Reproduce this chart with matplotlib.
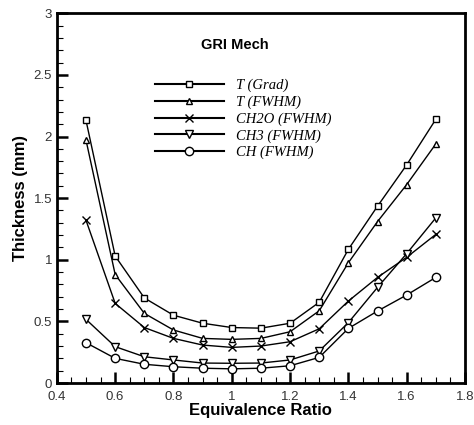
import matplotlib
matplotlib.use("Agg")
import matplotlib.pyplot as plt
from matplotlib.ticker import MultipleLocator

phi = [0.5, 0.6, 0.7, 0.8, 0.9, 1.0, 1.1, 1.2, 1.3, 1.4, 1.5, 1.6, 1.7]
t_grad = [2.13, 1.03, 0.69, 0.55, 0.485, 0.45, 0.445, 0.485, 0.655, 1.085, 1.435, 1.77, 2.14]
t_fwhm = [1.97, 0.88, 0.565, 0.43, 0.362, 0.354, 0.362, 0.416, 0.586, 0.976, 1.31, 1.61, 1.94]
ch2o = [1.32, 0.646, 0.45, 0.362, 0.308, 0.289, 0.30, 0.335, 0.44, 0.665, 0.857, 1.02, 1.206]
ch3 = [0.516, 0.295, 0.213, 0.187, 0.162, 0.16, 0.162, 0.187, 0.26, 0.49, 0.776, 1.05, 1.34]
ch = [0.327, 0.20, 0.152, 0.132, 0.12, 0.115, 0.12, 0.14, 0.208, 0.443, 0.584, 0.714, 0.857]

labels = ["T (Grad)", "T (FWHM)", "CH2O (FWHM)", "CH3 (FWHM)", "CH (FWHM)"]
series = [t_grad, t_fwhm, ch2o, ch3, ch]
markers = ["s", "^", "x", "v", "o"]
msizes = [4.5, 5, 5.5, 5.5, 6]

fig = plt.figure(figsize=(4.74, 4.25), dpi=100)
ax = fig.add_axes([0.120, 0.0988, 0.861, 0.870])

for y, lab, m, ms in zip(series, labels, markers, msizes):
    ax.plot(phi, y, color="black", lw=1.0, marker=m, ms=ms,
            mfc="white", mec="black", mew=1.0, label=lab)

ax.set_xlim(0.4, 1.8)
ax.set_ylim(0, 3)
ax.xaxis.set_major_locator(MultipleLocator(0.2))
ax.xaxis.set_minor_locator(MultipleLocator(0.05))
ax.yaxis.set_major_locator(MultipleLocator(0.5))
ax.yaxis.set_minor_locator(MultipleLocator(0.1))
ax.xaxis.set_major_formatter(matplotlib.ticker.FuncFormatter(lambda v, p: f"{v:g}"))
ax.yaxis.set_major_formatter(matplotlib.ticker.FuncFormatter(lambda v, p: f"{v:g}"))
ax.tick_params(which="both", direction="in", top=False, right=False,
               labelsize=9.5, labelcolor="#333333")
ax.tick_params(axis="x", which="major", pad=6)
ax.tick_params(which="major", length=8, width=1.8)
ax.tick_params(which="minor", length=4, width=0.8)
for tl in ax.get_xticklabels() + ax.get_yticklabels():
    tl.set_family("Liberation Sans")
for s in ax.spines.values():
    s.set_linewidth(2.0)

ax.set_xlabel("Equivalence Ratio", fontsize=12, fontweight="bold",
              family="Liberation Sans", labelpad=0)
ax.set_ylabel("Thickness (mm)", fontsize=12, fontweight="bold",
              family="Liberation Sans", labelpad=4)

fig.text(235 / 474, 1 - 45 / 425, "GRI Mech", fontsize=10.5, fontweight="bold",
         family="Liberation Sans", ha="center", va="center")

leg = ax.legend(loc="upper left", bbox_to_anchor=(155 / 474, 1 - 79 / 425),
                bbox_transform=fig.transFigure, frameon=False, borderpad=0,
                handlelength=4.7, handletextpad=0.85, labelspacing=0.22,
                prop={"family": "Liberation Serif", "style": "italic", "size": 10.5},
                borderaxespad=0)
for h in leg.get_lines():
    h.set_linewidth(1.5)

fig.savefig("out.png", dpi=100)
